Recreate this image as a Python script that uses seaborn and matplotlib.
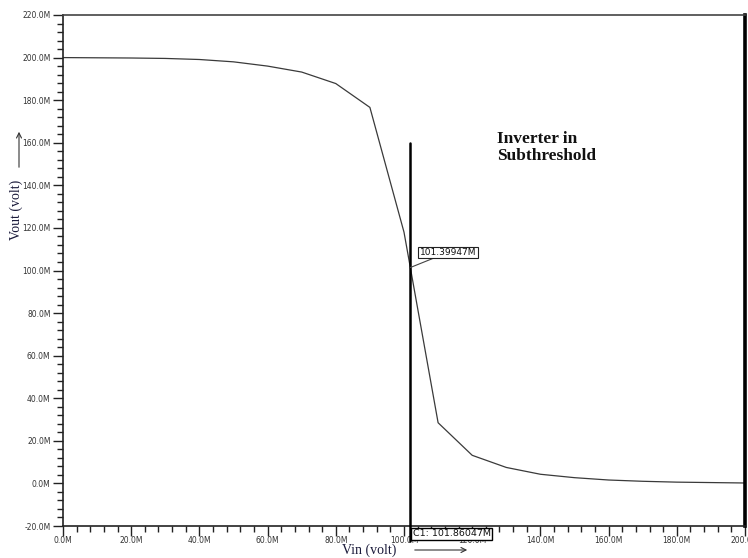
import matplotlib
matplotlib.use("Agg")
import matplotlib.pyplot as plt
from matplotlib.ticker import MultipleLocator, FuncFormatter
import seaborn as sns
import pandas as pd

# Data (values in milli-volts, "M" = milli)
vin = [0, 10, 20, 30, 40, 50, 60, 70, 80, 90, 100, 110, 120, 130, 140, 150, 160, 170, 180, 190, 200]
vout = [200.0, 199.9, 199.8, 199.6, 199.1, 198.0, 196.0, 193.2, 187.8, 176.6, 118.0,
        28.5, 13.2, 7.5, 4.3, 2.7, 1.6, 1.0, 0.6, 0.4, 0.2]
cursor_x = 101.86047
cursor_y = 101.39947
cursor_label = "C1: 101.86047M"
point_label = "101.39947M"
title_text = "Inverter in\nSubthreshold"
xlabel_text = "Vin (volt)"
ylabel_text = "Vout (volt)"

sns.set_style("white")
plt.rcParams['font.family'] = ['DejaVu Sans']

W, H = 748, 558
fig = plt.figure(figsize=(W / 100, H / 100), dpi=100)
ax = fig.add_axes([63 / W, 1 - 526 / H, (745 - 63) / W, (526 - 15) / H])

df = pd.DataFrame({"vin": vin, "vout": vout})
sns.lineplot(data=df, x="vin", y="vout", ax=ax, color="#3a3a3a", linewidth=0.9)

ax.set_xlim(0, 200)
ax.set_ylim(-20, 220)
ax.set_xlabel("")
ax.set_ylabel("")

ax.xaxis.set_major_locator(MultipleLocator(20))
ax.xaxis.set_minor_locator(MultipleLocator(4))
ax.yaxis.set_major_locator(MultipleLocator(20))
ax.yaxis.set_minor_locator(MultipleLocator(4))
fmt = FuncFormatter(lambda v, p: f"{v:.1f}M")
ax.xaxis.set_major_formatter(fmt)
ax.yaxis.set_major_formatter(fmt)
ax.tick_params(axis='both', which='major', direction='out', length=7, width=1,
               color='#222222', labelsize=5.5, labelcolor='#333333', pad=2)
ax.tick_params(axis='x', which='major', pad=0.5)
ax.tick_params(axis='both', which='minor', direction='out', length=4, width=1,
               color='#222222')
ax.tick_params(axis='x', which='both', bottom=True, top=False)
ax.tick_params(axis='y', which='both', left=True, right=False)

for s in ['left', 'bottom', 'top']:
    ax.spines[s].set_visible(True)
    ax.spines[s].set_color('#222222')
    ax.spines[s].set_linewidth(1.2)
ax.spines['top'].set_color('#444444')
ax.spines['right'].set_visible(True)
ax.spines['right'].set_color('black')
ax.spines['right'].set_linewidth(2.6)

# Cursor line
ax.plot([cursor_x, cursor_x], [160, -27], color='black', linewidth=1.8,
        clip_on=False, zorder=5)

# Point annotation
ax.annotate(point_label, xy=(cursor_x, cursor_y), xytext=(104.6, 108.5),
            textcoords='data', fontsize=6.5, color='#111111', ha='left', va='center',
            bbox=dict(boxstyle='square,pad=0.15', fc='white', ec='#222222', lw=0.8),
            arrowprops=dict(arrowstyle='-', color='#444444', lw=0.8,
                            shrinkA=0, shrinkB=0),
            zorder=6)

# Cursor label box below axis
ax.text(102.6, -23.6, cursor_label, fontsize=6.8, color='#111111', ha='left', va='center',
        bbox=dict(boxstyle='square,pad=0.15', fc='white', ec='black', lw=1.0),
        clip_on=False, zorder=7)

# Title text
fig.text(497 / W, 1 - 131 / H, title_text, fontsize=12.5, fontweight='bold',
         family=['Liberation Serif', 'DejaVu Serif'], color='#111111',
         ha='left', va='top', linespacing=1.05)

# Axis labels
fig.text(369 / W, 1 - 550 / H, xlabel_text, fontsize=10,
         family=['Liberation Serif', 'DejaVu Serif'], color='#1a1a3a',
         ha='center', va='center')
fig.text(16 / W, 1 - 210 / H, ylabel_text, fontsize=10, rotation=90,
         family=['Liberation Serif', 'DejaVu Serif'], color='#1a1a3a',
         ha='center', va='center')

# Arrows next to labels
fig.add_artist(matplotlib.patches.FancyArrowPatch(
    (412 / W, 1 - 550 / H), (470 / W, 1 - 550 / H), transform=fig.transFigure,
    arrowstyle='->', mutation_scale=9, color='#333333', lw=0.8))
fig.add_artist(matplotlib.patches.FancyArrowPatch(
    (19 / W, 1 - 170 / H), (19 / W, 1 - 129 / H), transform=fig.transFigure,
    arrowstyle='->', mutation_scale=9, color='#333333', lw=0.8))

fig.savefig("out.png", dpi=100, facecolor='white')
